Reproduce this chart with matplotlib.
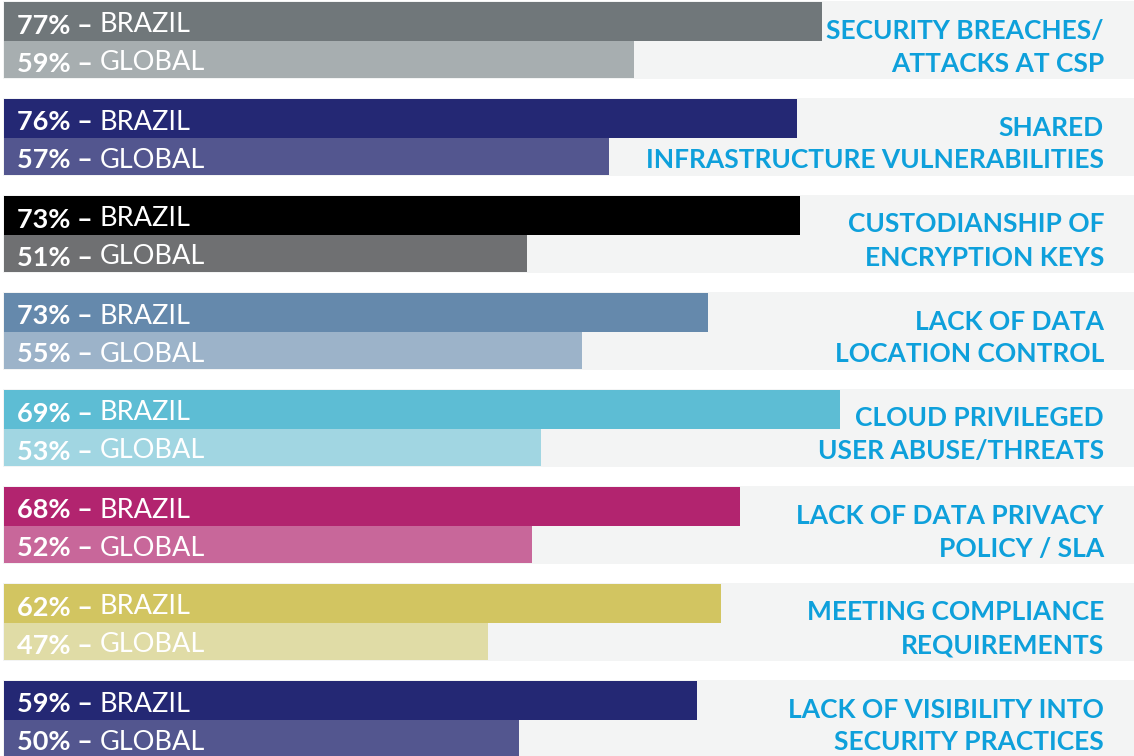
import matplotlib.pyplot as plt

# Категории (две строки подписи)
categories = [
    'SECURITY BREACHES/\nATTACKS AT CSP',
    'SHARED\nINFRASTRUCTURE VULNERABILITIES',
    'CUSTODIANSHIP OF\nENCRYPTION KEYS',
    'LACK OF DATA\nLOCATION CONTROL',
    'CLOUD PRIVILEGED\nUSER ABUSE/THREATS',
    'LACK OF DATA PRIVACY\nPOLICY / SLA',
    'MEETING COMPLIANCE\nREQUIREMENTS',
    'LACK OF VISIBILITY INTO\nSECURITY PRACTICES',
]

# Проценты (подписи на столбцах)
brazil_pct = [77, 76, 73, 73, 69, 68, 62, 59]
global_pct = [59, 57, 51, 55, 53, 52, 47, 50]

# Длина столбцов так, как они нарисованы на инфографике (не пропорциональны %)
brazil_len = [818, 793, 796, 704, 836, 736, 717, 693]
global_len = [630, 605, 523, 578, 537, 528, 484, 515]

brazil_colors = ['#70777a', '#242874', '#000000', '#6589ac',
                 '#5dbdd4', '#b2246f', '#d2c561', '#242874']
global_colors = ['#a7aeb0', '#53568f', '#6f7072', '#9cb3c9',
                 '#a1d6e2', '#c8679a', '#e0dca6', '#53568f']

W, H = 1134, 756
fig = plt.figure(figsize=(W / 100, H / 100), dpi=100)
ax = fig.add_axes([0, 0, 1, 1])
ax.set_xlim(0, W)
ax.set_ylim(H, 0)
ax.axis('off')

step = 97
bar_h1, bar_h2 = 39, 37
x0 = 4

for i, cat in enumerate(categories):
    top = 2 + step * i
    # светло-серая подложка
    ax.barh(top - 1, W - 3, height=78, left=3, align='edge',
            color='#f3f4f4', zorder=1)
    ax.barh(top, brazil_len[i], height=bar_h1, left=x0, align='edge',
            color=brazil_colors[i], zorder=2)
    ax.barh(top + bar_h1, global_len[i], height=bar_h2, left=x0, align='edge',
            color=global_colors[i], zorder=2)

    for yc, pct, name in [(top + bar_h1 / 2 + 4, brazil_pct[i], 'BRAZIL'),
                          (top + bar_h1 + bar_h2 / 2 + 4, global_pct[i], 'GLOBAL')]:
        t1 = ax.text(17, yc, f'{pct}% \u2013 ', color='white', fontsize=19.5,
                     fontfamily='Lato', fontweight='bold', va='center', zorder=3)
        ax.annotate(name, xy=(1, 0), xycoords=t1, va='bottom', ha='left',
                    color='white', fontsize=19.5, fontfamily='Lato',
                    fontweight='normal', zorder=3)

    ax.text(1104, top + 45, cat, color='#0ea0db', fontsize=19,
            fontfamily='Lato', fontweight='bold', ha='right', va='center',
            multialignment='right', linespacing=1.45, zorder=3)

fig.savefig('out.png', dpi=100)
